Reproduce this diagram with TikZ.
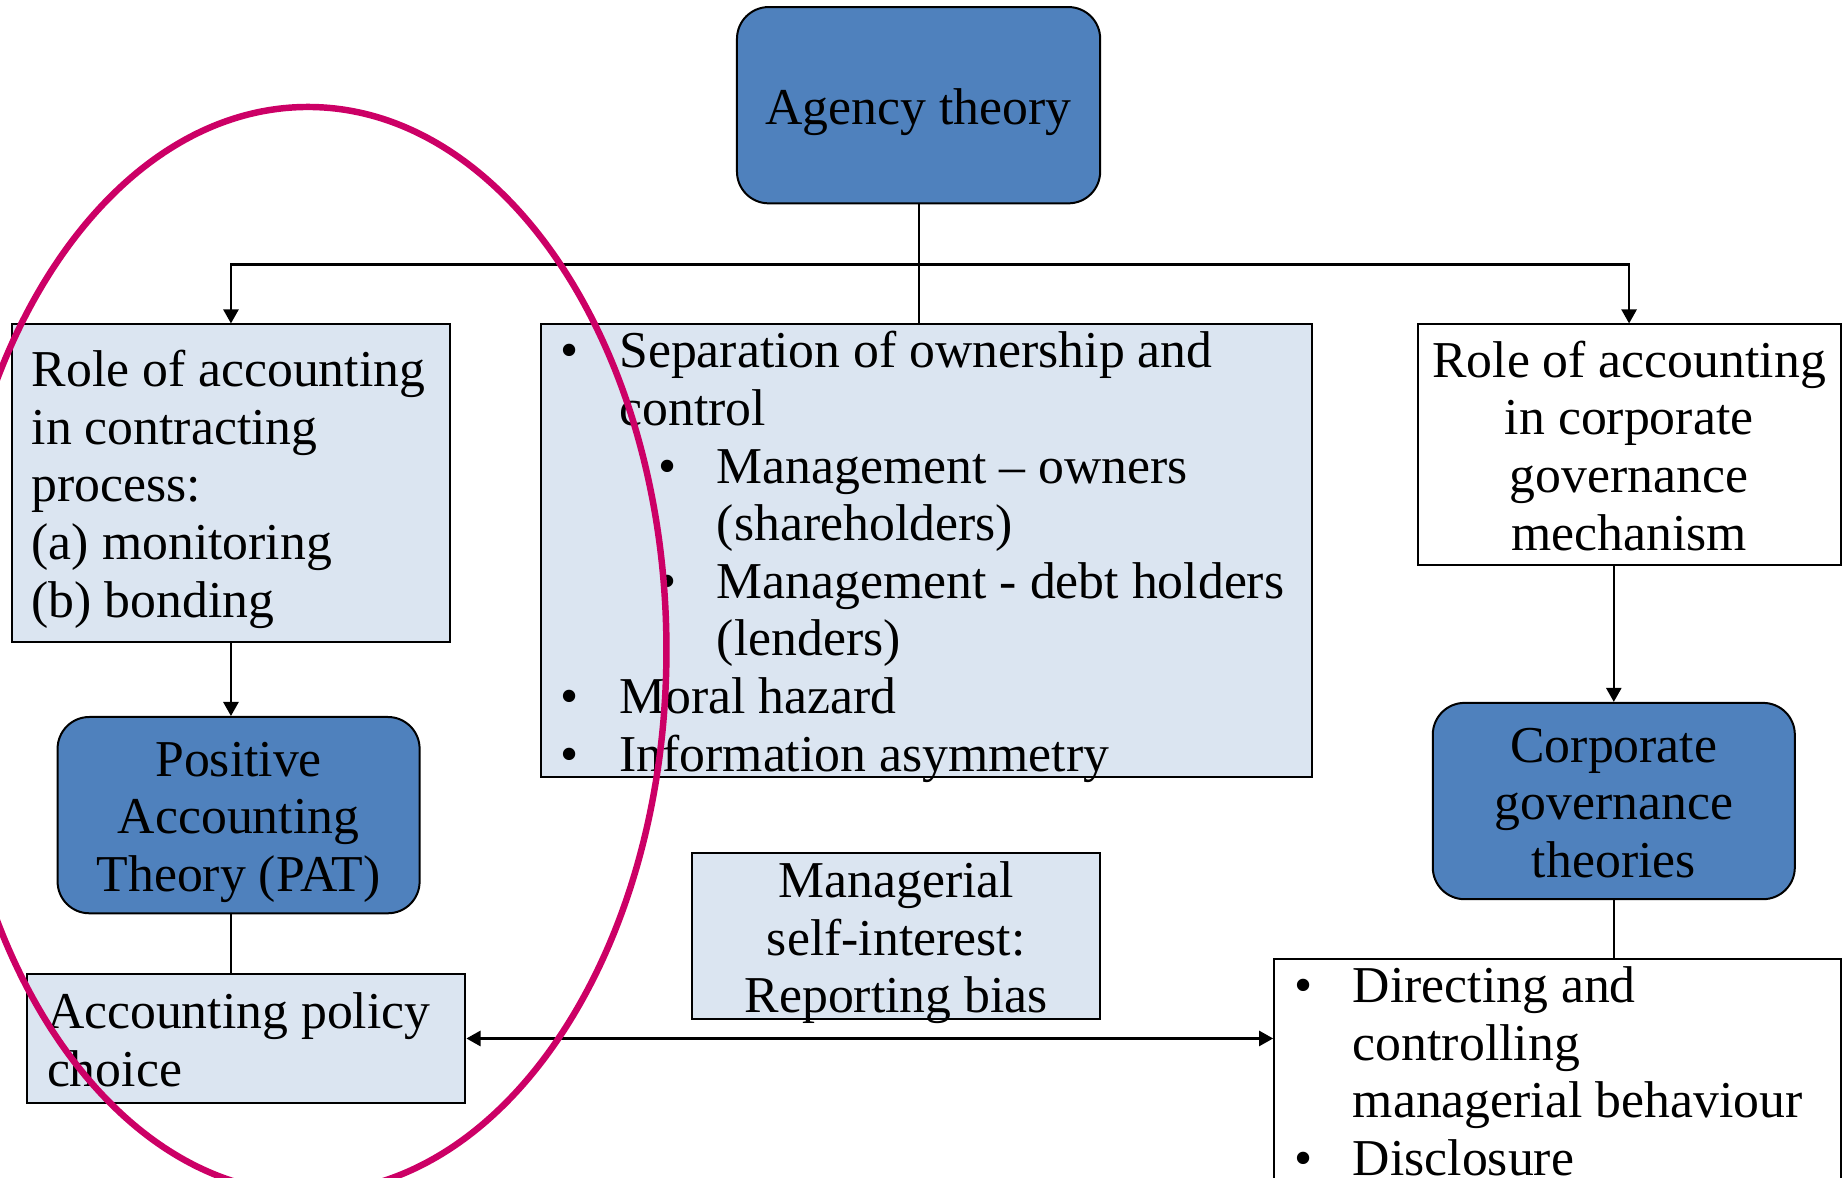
\documentclass[tikz,border=0pt]{standalone}
\usepackage{fontspec}
\setmainfont{Liberation Serif}
\usetikzlibrary{arrows.meta}
\definecolor{themeblue}{HTML}{4F81BD}
\definecolor{paleblue}{HTML}{DBE5F1}
\definecolor{ringred}{HTML}{CC0066}
\newcommand\bul{\makebox[50pt][l]{\textbullet}}
\newcommand\bulgap{\hspace*{50pt}}
% same first-line height in every box, last-line descenders not counted
\newcommand\linetop{\rule{0pt}{32pt}}
\newcommand\dropdepth{\par\kern-\prevdepth}
\begin{document}
\begin{tikzpicture}[x=1pt, y=-1pt,
        every node/.style={font=\fontsize{44}{49}\selectfont},
        card/.style={draw, line width=1.7pt, inner sep=0pt, align=flush center,
            execute at begin node=\linetop, execute at end node=\dropdepth},
        theory/.style={card, fill=themeblue, rounded corners=27pt},
        listbox/.style={card, fill=paleblue, inner xsep=17pt, align=flush left},
        notebox/.style={card, fill=paleblue},
        link/.style={line width=1.8pt},
        arrow/.style={link, -{Triangle[length=12pt, width=13pt]}}]
    \clip (0,0) rectangle (1568,1002);
    \node[theory, minimum width=309pt, minimum height=167pt, text width=289pt] (agency) at (781.5,89.5) {Agency theory};
    \node[listbox, minimum width=373pt, minimum height=270pt, text width=339pt] (rolec) at (196.5,411)
        {Role of accounting\\ in contracting\\ process:\\ (a) monitoring\\ (b) bonding};
    \node[listbox, minimum width=656pt, minimum height=385pt, text width=622pt] (mid) at (788,468.5)
        {\bul Separation of ownership and\\
         \bulgap control\\
         \hspace*{83pt}\bul Management -- owners\\
         \hspace*{133pt}(shareholders)\\
         \hspace*{83pt}\bul Management - debt holders\\
         \hspace*{133pt}(lenders)\\
         \bul Moral hazard\\
         \bul Information asymmetry};
    \node[card, fill=white, minimum width=360pt, minimum height=205pt, text width=344pt] (rolecg) at (1386,378.5)
        {Role of accounting\\ in corporate\\ governance\\ mechanism};
    \node[theory, minimum width=308pt, minimum height=167pt, text width=288pt] (pat) at (203,693.5)
        {Positive\\ Accounting\\ Theory (PAT)};
    \node[notebox, minimum width=347pt, minimum height=141pt, text width=327pt] (selfint) at (762.5,796.5)
        {Managerial\\ self-interest:\\ Reporting bias};
    \node[theory, minimum width=308pt, minimum height=167pt, text width=288pt] (cgt) at (1373,681.5)
        {Corporate\\ governance\\ theories};
    \node[listbox, minimum width=373pt, minimum height=109pt, text width=339pt] (apc) at (209.5,883.5)
        {Accounting policy\\ choice};
    \node[listbox, fill=white, minimum width=482pt, minimum height=189pt, text width=448pt] (cgb) at (1325,910.5)
        {\bul Directing and\\
         \bulgap controlling\\
         \bulgap managerial behaviour\\
         \bul Disclosure};

    \coordinate (fork) at (agency.south |- 0,225);
    \draw[link] (agency.south) -- (agency.south |- mid.north);
    \draw[arrow] (fork) -| (rolec.north);
    \draw[arrow] (fork) -| (rolecg.north);
    \draw[arrow] (rolec) -- (rolec |- pat.north);
    \draw[link] (pat.south -| rolec) -- (apc.north -| rolec);
    \draw[arrow] (rolecg.south -| cgt) -- (cgt);
    \draw[link] (cgt) -- (cgt |- cgb.north);
    \draw[link, {Triangle[length=12pt, width=13pt]}-{Triangle[length=12pt, width=13pt]}] (apc) -- (apc -| cgb.west);

    \draw[ringred, line width=5.5pt] (262,553) ellipse [x radius=305, y radius=462];
\end{tikzpicture}
\end{document}
